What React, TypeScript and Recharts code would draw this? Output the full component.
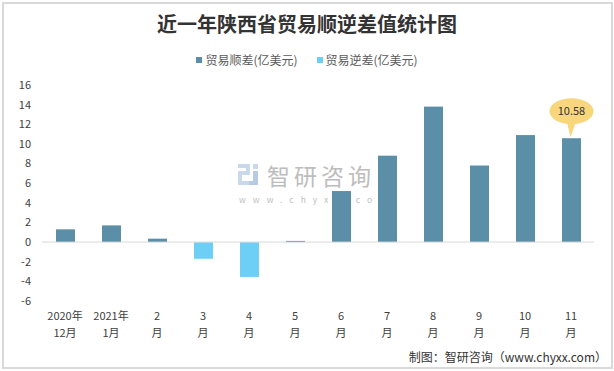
import React from 'react';
import { BarChart, Bar, XAxis, YAxis, ReferenceLine } from 'recharts';

const monthTop = ['2020年', '2021年', '2', '3', '4', '5', '6', '7', '8', '9', '10', '11'];
const monthBottom = ['12月', '1月', '月', '月', '月', '月', '月', '月', '月', '月', '月', '月'];
const surplus = [1.3, 1.7, 0.35, null, null, 0.12, 5.2, 8.8, 13.8, 7.8, 10.9, 10.58];
const deficit = [null, null, null, -1.7, -3.55, null, null, null, null, null, null, null];
const yTicks = [-6, -4, -2, 0, 2, 4, 6, 8, 10, 12, 14, 16];
const calloutIndex = 11;

const data = monthTop.map((m, i) => ({
  key: m + monthBottom[i],
  surplus: surplus[i],
  deficit: deficit[i],
}));

const SURPLUS_COLOR = '#5b8fa8';
const DEFICIT_COLOR = '#6dcff6';
const FONT = '"Noto Sans CJK SC", "Noto Sans", sans-serif';

const XTick = (props: any) => {
  const { x, y, index } = props;
  return (
    <g>
      <text x={x} y={y + 11} textAnchor="middle" fontSize={11} fill="#404040" fontFamily={FONT}>
        {monthTop[index]}
      </text>
      <text x={x} y={y + 28} textAnchor="middle" fontSize={11} fill="#404040" fontFamily={FONT}>
        {monthBottom[index]}
      </text>
    </g>
  );
};

const SurplusShape = (props: any) => {
  const { x, y, width, height, index, fill } = props;
  const value = surplus[index];
  if (value == null) return null;
  const cx = x + width / 2;
  const cy = y - 27;
  return (
    <g>
      <rect x={x} y={y} width={width} height={height} fill={fill} />
      {index === calloutIndex && (
        <g>
          <path d={`M ${cx - 5} ${cy + 9} L ${cx - 1} ${y - 1} L ${cx + 5} ${cy + 9} Z`} fill="#f7d67c" />
          <ellipse cx={cx} cy={cy} rx={22} ry={13} fill="#f7d67c" />
          <text x={cx} y={cy + 4} textAnchor="middle" fontSize={11} fill="#333" fontFamily={FONT}>
            {value}
          </text>
        </g>
      )}
    </g>
  );
};

const legendItems = [
  { name: '贸易顺差(亿美元)', color: SURPLUS_COLOR },
  { name: '贸易逆差(亿美元)', color: DEFICIT_COLOR },
];

export default function App() {
  return (
    <div style={{ position: 'absolute', left: 0, top: 0, width: 614, height: 371, background: '#fff', overflow: 'hidden' }}>
      <div
        style={{
          position: 'absolute', left: 2, top: 2, width: 607, height: 363,
          border: '2px solid #d9d9d9', boxSizing: 'content-box',
        }}
      />
      <div
        style={{
          position: 'absolute', left: 0, top: 11, width: 614, textAlign: 'center',
          fontFamily: FONT, fontWeight: 'bold', fontSize: 20, color: '#333', lineHeight: '26px',
        }}
      >
        近一年陕西省贸易顺逆差值统计图
      </div>
      <div
        style={{
          position: 'absolute', left: 0, top: 51, width: 614, display: 'flex', justifyContent: 'center',
          fontFamily: FONT, fontSize: 12, color: '#595959', lineHeight: '18px',
        }}
      >
        {legendItems.map((it, i) => (
          <div key={i} style={{ display: 'flex', alignItems: 'center', marginLeft: i ? 19 : 0 }}>
            <span style={{ width: 6, height: 6, background: it.color, display: 'inline-block', marginRight: 3 }} />
            <span>{it.name}</span>
          </div>
        ))}
      </div>
      {/* watermark */}
      <svg width={190} height={58} style={{ position: 'absolute', left: 237, top: 150 }}>
        <path d="M1 14 H13 V25 H5 V31 H13 V35 H1 V21 H9 V18 H1 Z" fill="#c9d8ea" />
        <rect x={16} y={14} width={5} height={5} fill="#c9d8ea" />
        <path d="M16 21 H21 V35 H12 V31 H16 Z" fill="#b5cbe4" />
        <text x={30} y={35} fontFamily={FONT} fontSize={23} fill="#bdbdbd" letterSpacing={4}>
          智研咨询
        </text>
        <text x={2} y={53} fontFamily={FONT} fontSize={8.5} fill="#c0c0c0" letterSpacing={7}>
          www.chyxx.com
        </text>
      </svg>
      <div style={{ position: 'absolute', left: 0, top: 0 }}>
        <BarChart
          width={614}
          height={371}
          data={data}
          stackOffset="sign"
          margin={{ top: 85, right: 20, bottom: 30, left: 0 }}
        >
          <XAxis
            dataKey="key"
            axisLine={false}
            tickLine={false}
            interval={0}
            height={40}
            tick={<XTick />}
          />
          <YAxis
            width={42}
            domain={[-6, 16]}
            ticks={yTicks}
            interval={0}
            axisLine={false}
            tickLine={false}
            tickMargin={5}
            tick={{ fontSize: 11, fill: '#404040', fontFamily: FONT }}
          />
          <ReferenceLine y={0} stroke="#d9d9d9" strokeWidth={1} />
          <Bar
            dataKey="surplus"
            name="贸易顺差(亿美元)"
            stackId="a"
            fill={SURPLUS_COLOR}
            barSize={19}
            isAnimationActive={false}
            shape={<SurplusShape />}
          />
          <Bar dataKey="deficit" name="贸易逆差(亿美元)" stackId="a" fill={DEFICIT_COLOR} barSize={19} isAnimationActive={false} />
        </BarChart>
      </div>
      <div
        style={{
          position: 'absolute', right: 7, top: 349, whiteSpace: 'nowrap',
          fontFamily: FONT, fontSize: 12, color: '#333', lineHeight: '16px',
        }}
      >
        制图：智研咨询（www.chyxx.com）
      </div>
    </div>
  );
}
